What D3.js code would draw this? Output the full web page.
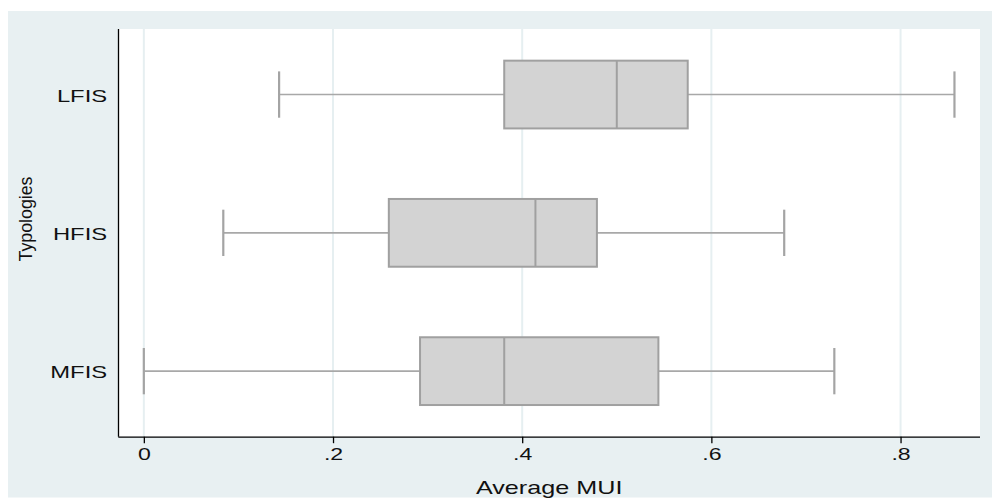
<!DOCTYPE html>
<html>
<head>
<meta charset="utf-8">
<script src="https://cdn.jsdelivr.net/npm/d3@7"></script>
<style>
  body { margin: 0; background: #ffffff; }
  text { font-family: "Liberation Sans", Arial, Helvetica, sans-serif; fill: #111; }
</style>
</head>
<body>
<div id="chart"></div>
<script>
// box plot summaries per typology
const categories = ["LFIS", "HFIS", "MFIS"];
const mins = [0.143, 0.084, 0.0];
const q1s = [0.381, 0.259, 0.292];
const medians = [0.500, 0.414, 0.381];
const q3s = [0.575, 0.479, 0.544];
const maxs = [0.857, 0.677, 0.730];
const xTicks = [0, 0.2, 0.4, 0.6, 0.8];
const xTitle = "Average MUI";
const yTitle = "Typologies";

const W = 992, H = 498;
const margin = {top: 29, right: 12, bottom: 61.3, left: 118.3};
const width = W - margin.left - margin.right;
const height = H - margin.top - margin.bottom;
const stretch = 1.4; // the reference text is drawn wide

const boxes = categories.map((c, i) => ({
    cat: c, min: mins[i], q1: q1s[i], med: medians[i], q3: q3s[i], max: maxs[i]
}));

const svg = d3.select("#chart")
    .append("svg")
    .attr("width", W)
    .attr("height", H);

// outer background
svg.append("rect")
    .attr("x", 8).attr("y", 11)
    .attr("width", W - 8).attr("height", H - 11.5)
    .attr("fill", "#e8f0f2");

const g = svg.append("g")
    .attr("transform", `translate(${margin.left},${margin.top})`);

g.append("rect")
    .attr("width", width)
    .attr("height", height)
    .attr("fill", "#ffffff");

const x = d3.scaleLinear()
    .domain([-0.027, 0.884])
    .range([0, width]);

const y = d3.scalePoint()
    .domain(categories)
    .range([0, height])
    .padding(0.474);

const boxH = y.step() * 0.49;
const capH = y.step() * 0.335;

// vertical gridlines
g.selectAll(".grid")
    .data(xTicks)
    .join("line")
    .attr("class", "grid")
    .attr("x1", d => x(d)).attr("x2", d => x(d))
    .attr("y1", 0).attr("y2", height)
    .style("stroke", "#e6eff1")
    .style("stroke-width", 2);

const items = g.selectAll(".box")
    .data(boxes)
    .join("g")
    .attr("class", "box")
    .attr("transform", d => `translate(0,${y(d.cat)})`);

// whiskers
items.append("line")
    .attr("x1", d => x(d.min)).attr("x2", d => x(d.q1))
    .attr("y1", 0).attr("y2", 0)
    .style("stroke", "#a8a8a8").style("stroke-width", 1.6);
items.append("line")
    .attr("x1", d => x(d.q3)).attr("x2", d => x(d.max))
    .attr("y1", 0).attr("y2", 0)
    .style("stroke", "#a8a8a8").style("stroke-width", 1.6);

// caps
items.selectAll(".cap")
    .data(d => [d.min, d.max])
    .join("line")
    .attr("class", "cap")
    .attr("x1", v => x(v)).attr("x2", v => x(v))
    .attr("y1", -capH / 2).attr("y2", capH / 2)
    .style("stroke", "#a4a4a4").style("stroke-width", 2.2);

// boxes
items.append("rect")
    .attr("x", d => x(d.q1))
    .attr("y", -boxH / 2)
    .attr("width", d => x(d.q3) - x(d.q1))
    .attr("height", boxH)
    .style("fill", "#d3d3d3")
    .style("stroke", "#a0a0a0")
    .style("stroke-width", 2);

items.append("line")
    .attr("x1", d => x(d.med)).attr("x2", d => x(d.med))
    .attr("y1", -boxH / 2).attr("y2", boxH / 2)
    .style("stroke", "#a0a0a0").style("stroke-width", 2);

// x axis
const xAxis = g.append("g")
    .attr("transform", `translate(0,${height})`)
    .call(d3.axisBottom(x)
        .tickValues(xTicks)
        .tickSizeInner(6.5)
        .tickSizeOuter(0)
        .tickPadding(5)
        .tickFormat(d => d === 0 ? "0" : d3.format(".1f")(d).replace(/^0/, "")));
xAxis.select(".domain").attr("stroke", "#000").attr("stroke-width", 1.3)
    .attr("d", `M${x.range()[0]},0.5H${x.range()[1]}`);
xAxis.selectAll(".tick line").attr("stroke", "#000").attr("stroke-width", 1.3);
xAxis.selectAll(".tick text")
    .style("font-size", "16.5px")
    .attr("fill", "#111")
    .attr("transform", `scale(${stretch},1)`);

// y axis
const yAxis = g.append("g")
    .call(d3.axisLeft(y).tickSize(0).tickPadding(8));
yAxis.select(".domain").attr("stroke", "#000").attr("stroke-width", 1.3)
    .attr("d", `M0.2,0V${height}`);
yAxis.selectAll(".tick text")
    .style("font-size", "17px")
    .attr("fill", "#111")
    .attr("dy", "0.4em")
    .attr("transform", `scale(${stretch},1)`);

// titles
svg.append("text")
    .attr("transform", `translate(${margin.left + width / 2},494) scale(${stretch},1)`)
    .attr("text-anchor", "middle")
    .style("font-size", "18px")
    .text(xTitle);

svg.append("text")
    .attr("transform", `translate(32,219) rotate(-90)`)
    .attr("text-anchor", "middle")
    .attr("textLength", 85)
    .attr("lengthAdjust", "spacingAndGlyphs")
    .style("font-size", "18px")
    .text(yTitle);
</script>
</body>
</html>
